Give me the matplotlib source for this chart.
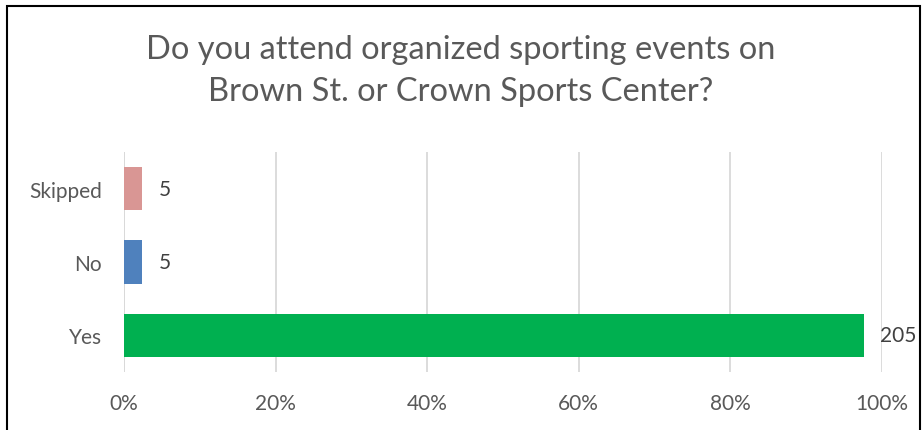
import matplotlib
matplotlib.use("Agg")
import matplotlib.pyplot as plt
from matplotlib.patches import Rectangle

categories = ["Yes", "No", "Skipped"]
percents = [97.6, 2.4, 2.4]
counts = [205, 5, 5]
colors = ["#00b050", "#4f81bd", "#d99694"]
xticks = [0, 20, 40, 60, 80, 100]
xtick_labels = ["0%", "20%", "40%", "60%", "80%", "100%"]
title = "Do you attend organized sporting events on\nBrown St. or Crown Sports Center?"

plt.rcParams['font.family'] = ['Lato', 'DejaVu Sans']
txt = "#595959"

fig = plt.figure(figsize=(9.22, 4.31), dpi=100)
ax = fig.add_axes([124/922, 1-373/431, (882-124)/922, (373-153)/431])

y = list(range(len(categories)))
ax.barh(y, percents, height=0.59, color=colors, zorder=3)
for yi, p, c in zip(y, percents, counts):
    ax.text(p + 2.2, yi, str(c), va="center", ha="left", fontsize=15, color="#404040")

ax.set_xlim(0, 100)
ax.set_ylim(-0.5, 2.5)
ax.set_xticks(xticks)
ax.set_xticklabels(xtick_labels, fontsize=15, color=txt)
ax.set_yticks(y)
ax.set_yticklabels(categories, fontsize=15, color=txt)
ax.tick_params(axis="both", length=0)
ax.tick_params(axis="x", pad=15)
ax.tick_params(axis="y", pad=16)
ax.grid(axis="x", color="#d9d9d9", linewidth=1.3, zorder=0)
for s in ax.spines.values():
    s.set_visible(False)
ax.axvline(0, color="#d9d9d9", linewidth=1.3, zorder=1)

fig.text(0.5, 1-71/431, title, ha="center", va="center", fontsize=23.5,
         color=txt, linespacing=1.5)

fig.patches.append(Rectangle((7/922, -0.01), (920-7)/922, 1-7/431+0.01,
                             transform=fig.transFigure, fill=False,
                             edgecolor="black", linewidth=1.5))

fig.savefig("out.png", dpi=100)
